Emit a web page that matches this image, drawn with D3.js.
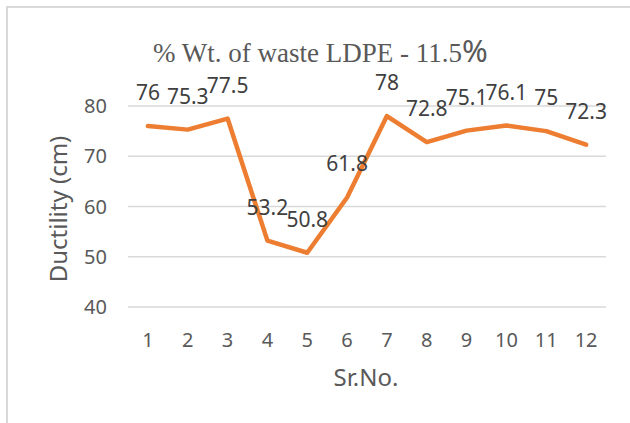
<!DOCTYPE html>
<html>
<head>
<meta charset="utf-8">
<script src="https://cdn.jsdelivr.net/npm/d3@7"></script>
<style>
  html, body { margin: 0; padding: 0; background: #fff; }
  svg { display: block; }
</style>
</head>
<body>
<svg id="chart" width="630" height="423"></svg>
<script>
// Ductility readings for each sample
const serialNos = ["1", "2", "3", "4", "5", "6", "7", "8", "9", "10", "11", "12"];
const ductility = [76, 75.3, 77.5, 53.2, 50.8, 61.8, 78, 72.8, 75.1, 76.1, 75, 72.3];
const yTicks = [40, 50, 60, 70, 80];

const svg = d3.select("#chart");
const plot = { left: 128, right: 606, top: 106, bottom: 307 };
const sans = "Noto Sans, sans-serif";

// chart area border
svg.append("rect")
  .attr("x", 7).attr("y", 7)
  .attr("width", 700).attr("height", 500)
  .attr("fill", "none")
  .attr("stroke", "#d9d9d9")
  .attr("stroke-width", 2);

const x = d3.scaleBand().domain(serialNos).range([plot.left, plot.right]);
const y = d3.scaleLinear().domain([40, 80]).range([plot.bottom, plot.top]);
const cx = d => x(d) + x.bandwidth() / 2;

// horizontal gridlines
svg.append("g")
  .selectAll("line")
  .data(yTicks)
  .join("line")
  .attr("x1", plot.left).attr("x2", plot.right)
  .attr("y1", d => y(d)).attr("y2", d => y(d))
  .attr("stroke", "#d9d9d9")
  .attr("stroke-width", 1.5);

// y axis tick labels
svg.append("g")
  .selectAll("text")
  .data(yTicks)
  .join("text")
  .attr("x", 107)
  .attr("y", d => y(d))
  .attr("dy", "0.36em")
  .attr("text-anchor", "end")
  .attr("font-family", sans)
  .attr("font-size", 20)
  .attr("fill", "#595959")
  .text(d => d);

// x axis tick labels
svg.append("g")
  .selectAll("text")
  .data(serialNos)
  .join("text")
  .attr("x", d => cx(d))
  .attr("y", 347)
  .attr("text-anchor", "middle")
  .attr("font-family", sans)
  .attr("font-size", 20)
  .attr("fill", "#595959")
  .text(d => d);

// data line
const line = d3.line()
  .x((d, i) => cx(serialNos[i]))
  .y(d => y(d));

svg.append("path")
  .datum(ductility)
  .attr("d", line)
  .attr("fill", "none")
  .attr("stroke", "#ED7D31")
  .attr("stroke-width", 4.5)
  .attr("stroke-linejoin", "round")
  .attr("stroke-linecap", "round");

// value labels above each point
svg.append("g")
  .selectAll("text")
  .data(ductility)
  .join("text")
  .attr("x", (d, i) => cx(serialNos[i]))
  .attr("y", d => y(d) - 26)
  .attr("text-anchor", "middle")
  .attr("font-family", sans)
  .attr("font-size", 21)
  .attr("fill", "#404040")
  .text(d => d);

// title
const title = svg.append("text")
  .attr("x", 153)
  .attr("y", 62)
  .attr("fill", "#595959");
title.append("tspan")
  .attr("font-family", "Liberation Serif, serif")
  .attr("font-size", 27)
  .text("% Wt. of waste LDPE - 11.5");
title.append("tspan")
  .attr("font-family", sans)
  .attr("font-size", 31)
  .text("%");

// axis titles
svg.append("text")
  .attr("transform", "translate(67,209) rotate(-90)")
  .attr("text-anchor", "middle")
  .attr("font-family", sans)
  .attr("font-size", 24)
  .attr("fill", "#595959")
  .text("Ductility (cm)");

svg.append("text")
  .attr("x", 366)
  .attr("y", 386)
  .attr("text-anchor", "middle")
  .attr("font-family", sans)
  .attr("font-size", 24)
  .attr("fill", "#595959")
  .text("Sr.No.");
</script>
</body>
</html>
